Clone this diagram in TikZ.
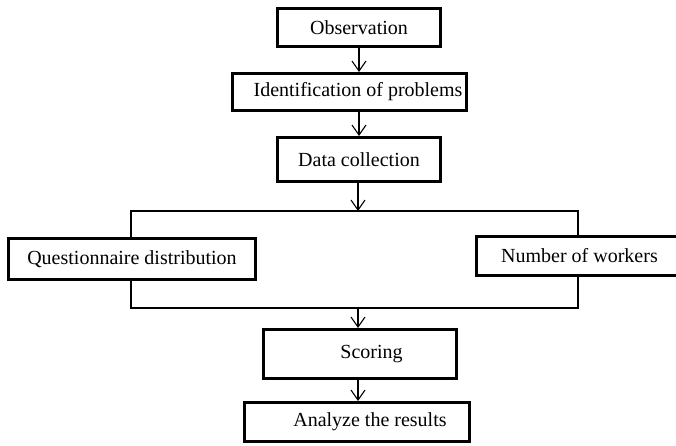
\documentclass[tikz,border=0pt]{standalone}
\usepackage{fontspec}
\setmainfont{Liberation Serif}
\usetikzlibrary{arrows.meta,positioning,calc}

\begin{document}
\begin{tikzpicture}[x=1pt,y=-1pt,>={Straight Barb[length=10pt,width=14pt]},
  font=\fontsize{20}{24}\selectfont, line width=1.1pt,
  stage/.style={draw,line width=3pt,inner xsep=0pt,inner ysep=0pt}]
\clip (0,0) rectangle (676,445);

\node[stage,minimum width=163pt,minimum height=38pt] (obs) at (359,27.5) {Observation};
\node[stage,minimum width=234pt,minimum height=37pt] (ident) at (349.5,92) {\hspace*{17pt}Identification of problems};
\node[stage,minimum width=163pt,minimum height=44pt] (data) at (359,159.5) {Data collection};
\node[stage,minimum width=247pt,minimum height=41pt] (quest) at (132,259) {Questionnaire distribution};
\node[stage,minimum width=206pt,minimum height=39pt] (workers) at (579.5,256) {Number of workers};
\node[stage,minimum width=193pt,minimum height=49pt] (score) at (360,354) {\hspace*{23pt}Scoring};
\node[stage,minimum width=225pt,minimum height=39pt] (result) at (357,422) {\hspace*{26pt}Analyze the results};

\coordinate (split) at (358,211);
\coordinate (join) at (358,308);

\draw[->] (obs.south) -- (obs.south |- ident.north);
\draw[->] (obs.south |- ident.south) -- (obs.south |- data.north);
\draw[->] (split |- data.south) -- (split);

% branch out and back together
\draw (quest.north -| 131,0) -- (131,211) -- (578,211) -- (workers.north -| 578,0);
\draw (quest.south -| 131,0) -- (131,308) -- (578,308) -- (workers.south -| 578,0);

\draw[->] (join) -- (join |- score.north);
\draw[->] (join |- score.south) -- (join |- result.north);
\end{tikzpicture}
\end{document}
